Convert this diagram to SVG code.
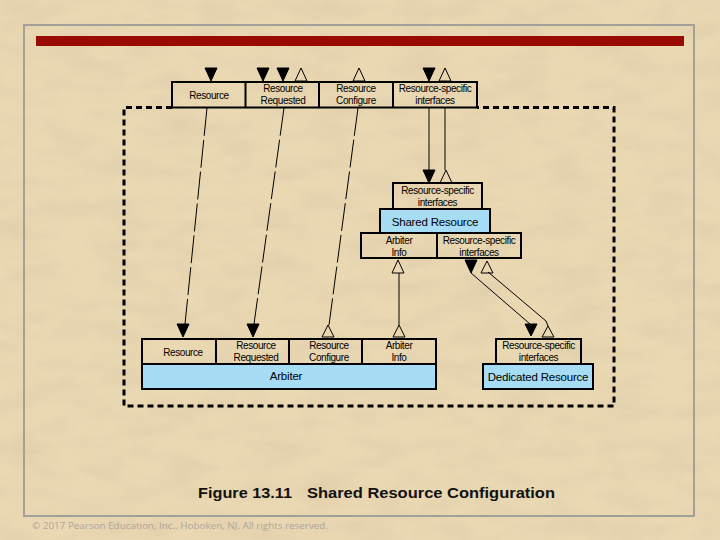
<svg xmlns="http://www.w3.org/2000/svg" width="720" height="540" viewBox="0 0 720 540">
<defs>
<style>
.bg{fill:#EAD8B3}
.box{fill:none;stroke:#000;stroke-width:2}
.blue{fill:#A6DCF4;stroke:#000;stroke-width:2}
.lbl{font-family:"Liberation Sans",Arial,sans-serif;font-size:10px;fill:#000;text-anchor:middle;letter-spacing:-0.4px}
.big{font-family:"Liberation Sans",Arial,sans-serif;font-size:11.5px;fill:#000;text-anchor:middle;letter-spacing:-0.2px}
.cap{font-family:"Liberation Sans",Arial,sans-serif;font-size:15.5px;font-weight:bold;fill:#111}
.solid{fill:#000;stroke:#000;stroke-width:1}
.open{fill:none;stroke:#000;stroke-width:1}
.dash{fill:none;stroke:#000;stroke-width:1;stroke-dasharray:28 4}
.line{fill:none;stroke:#000;stroke-width:1}
.border{fill:none;stroke:#000;stroke-width:3;stroke-dasharray:6 4}
</style>
<filter id="tex" x="0" y="0" width="100%" height="100%">
<feTurbulence type="fractalNoise" baseFrequency="0.02 0.05" numOctaves="3" seed="4"/>
<feColorMatrix type="matrix" values="0 0 0 0 0.55  0 0 0 0 0.45  0 0 0 0 0.3  0 0 0 -1.2 0.75"/>
</filter>
</defs>
<rect class="bg" x="0" y="0" width="720" height="540"/>
<rect x="0" y="0" width="720" height="540" filter="url(#tex)" opacity="0.35"/>
<rect x="24" y="25" width="670" height="491" fill="none" stroke="#A3A09A" stroke-width="2"/>
<rect x="36" y="36" width="648" height="10" fill="#990A05"/>

<g id="boundary">
<path class="border" d="M172 107.5 H124 V406 H614 V107.5 H477"/>
</g>

<g id="top-interface">
<rect x="172" y="82" width="305" height="25.5" class="box" stroke-width="2.5"/>
<line x1="245.5" y1="82" x2="245.5" y2="107.5" stroke="#000" stroke-width="2"/>
<line x1="319" y1="82" x2="319" y2="107.5" stroke="#000" stroke-width="2"/>
<line x1="393" y1="82" x2="393" y2="107.5" stroke="#000" stroke-width="2"/>
<text class="lbl" x="209" y="99">Resource</text>
<text class="lbl" x="283" y="92">Resource</text>
<text class="lbl" x="283" y="104">Requested</text>
<text class="lbl" x="356" y="92">Resource</text>
<text class="lbl" x="356" y="104">Configure</text>
<text class="lbl" x="435" y="92">Resource-specific</text>
<text class="lbl" x="435" y="104">interfaces</text>
<path class="solid" d="M205 68 H217 L211 81 Z"/>
<path class="solid" d="M257 68 H269 L263 81 Z"/>
<path class="solid" d="M277 68 H289 L283 81 Z"/>
<path class="open" d="M301 68 L295 81 H307 Z"/>
<path class="open" d="M359 68 L353 81 H365 Z"/>
<path class="solid" d="M423 68 H435 L429 81 Z"/>
<path class="open" d="M445 68 L439 81 H451 Z"/>
</g>

<g id="shared-resource">
<rect x="393" y="183" width="89" height="26" class="box"/>
<text class="lbl" x="437.5" y="194">Resource-specific</text>
<text class="lbl" x="437.5" y="205.5">interfaces</text>
<rect x="380" y="209" width="110" height="24" class="blue"/>
<text class="big" x="435" y="225.5">Shared Resource</text>
<rect x="361" y="233" width="160" height="25" class="box"/>
<line x1="437" y1="233" x2="437" y2="258" stroke="#000" stroke-width="2"/>
<text class="lbl" x="399" y="244">Arbiter</text>
<text class="lbl" x="399" y="255.5">Info</text>
<text class="lbl" x="479" y="244">Resource-specific</text>
<text class="lbl" x="479" y="255.5">interfaces</text>
<path class="solid" d="M423 170 H435 L429 183 Z"/>
<path class="open" d="M446 170 L440 183 H452 Z"/>
<path class="open" d="M398 260 L392 273 H404 Z"/>
<path class="solid" d="M465 260 H477 L471 273 Z"/>
<path class="open" d="M487 261 L481 273 H493 Z"/>
</g>

<g id="arbiter">
<rect x="142" y="339" width="294" height="25" class="box"/>
<line x1="216" y1="339" x2="216" y2="364" stroke="#000" stroke-width="2"/>
<line x1="289" y1="339" x2="289" y2="364" stroke="#000" stroke-width="2"/>
<line x1="362" y1="339" x2="362" y2="364" stroke="#000" stroke-width="2"/>
<rect x="142" y="364" width="294" height="25" class="blue"/>
<text class="lbl" x="183" y="356">Resource</text>
<text class="lbl" x="256" y="349">Resource</text>
<text class="lbl" x="256" y="361">Requested</text>
<text class="lbl" x="329" y="349">Resource</text>
<text class="lbl" x="329" y="361">Configure</text>
<text class="lbl" x="399" y="349">Arbiter</text>
<text class="lbl" x="399" y="361">Info</text>
<text class="big" x="286" y="380">Arbiter</text>
<path class="solid" d="M177 324 H189 L183 337 Z"/>
<path class="solid" d="M247 324 H259 L253 337 Z"/>
<path class="open" d="M328 325 L322 337 H334 Z"/>
<path class="open" d="M399 325 L393 337 H405 Z"/>
</g>

<g id="dedicated-resource">
<rect x="496" y="339" width="85" height="25" class="box"/>
<text class="lbl" x="538.5" y="349">Resource-specific</text>
<text class="lbl" x="538.5" y="361">interfaces</text>
<rect x="483" y="364" width="110" height="25" class="blue"/>
<text class="big" x="538" y="381">Dedicated Resource</text>
<path class="solid" d="M525 324 H537 L531 336 Z"/>
<path class="open" d="M548 326 L542 337 H554 Z"/>
</g>

<g id="connectors">
<path class="dash" d="M207 108 L185 324"/>
<path class="dash" d="M284 108 L254 324"/>
<path class="dash" d="M358 108 L329 325"/>
<path class="line" d="M429 108 V170" stroke-width="1.5"/>
<path class="line" d="M445 108 V170"/>
<path class="line" d="M399 273 V325"/>
<path class="line" d="M471 273 L530 324"/>
<path class="line" d="M488 272 L546 321 L548 326"/>
</g>

<text class="cap" x="198" y="498" textLength="94" lengthAdjust="spacingAndGlyphs">Figure 13.11</text>
<text class="cap" x="307" y="498" textLength="248" lengthAdjust="spacingAndGlyphs">Shared Resource Configuration</text>
<text x="32" y="529" font-family="'Open Sans','Liberation Sans',sans-serif" font-size="9" fill="#ABA69D" textLength="296" lengthAdjust="spacingAndGlyphs">© 2017 Pearson Education, Inc., Hoboken, NJ. All rights reserved.</text>
</svg>
